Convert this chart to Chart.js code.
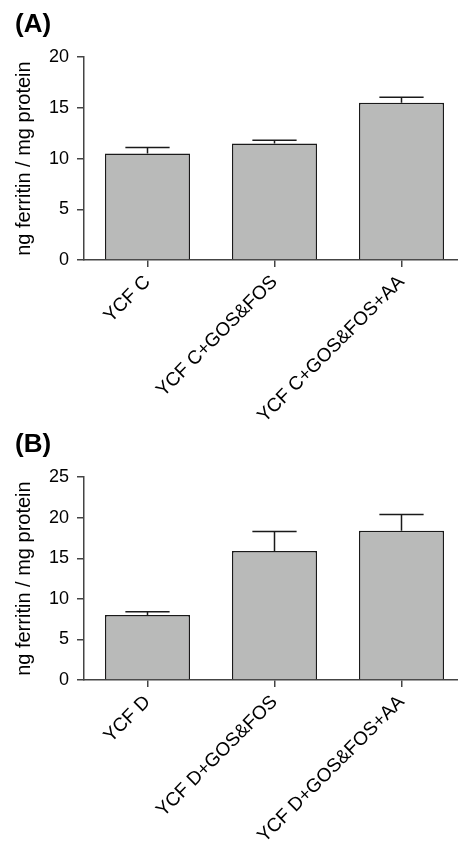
<!DOCTYPE html>
<html><head><meta charset="utf-8">
<script src="https://cdn.jsdelivr.net/npm/chart.js@4/dist/chart.umd.min.js"></script>
<style>
html,body{margin:0;padding:0;background:#fff;overflow:hidden;width:458px;height:849px;position:relative;}
canvas{display:block;position:absolute;left:0;}
#a{top:0}
#b{top:420px}
</style></head><body>
<canvas id="a" width="468" height="420"></canvas>
<canvas id="b" width="468" height="429"></canvas>
<script>
// ---- data ----
const categoriesA = ['YCF C', 'YCF C+GOS&FOS', 'YCF C+GOS&FOS+AA'];
const meansA = [10.5, 11.5, 15.5];
const errorsA = [0.6, 0.3, 0.55];
const yTicksA = [0, 5, 10, 15, 20];

const categoriesB = ['YCF D', 'YCF D+GOS&FOS', 'YCF D+GOS&FOS+AA'];
const meansB = [8.0, 15.9, 18.4];
const errorsB = [0.4, 2.4, 2.0];
const yTicksB = [0, 5, 10, 15, 20, 25];

const panelA = '(A)';
const panelB = '(B)';
const yTitle = 'ng ferritin / mg protein';

// ---- rendering ----
const FONT = '"Liberation Sans", Arial, Helvetica, sans-serif';

const errorBarPlugin = {
  id: 'errorBars',
  afterDatasetsDraw(chart, args, opts) {
    const meta = chart.getDatasetMeta(0);
    const ys = chart.scales.y;
    const ctx = chart.ctx;
    ctx.save();
    ctx.strokeStyle = opts.color;
    ctx.lineWidth = opts.lineWidth;
    meta.data.forEach((bar, i) => {
      const v = chart.data.datasets[0].data[i];
      const e = opts.values[i];
      const x = bar.x;
      const y0 = ys.getPixelForValue(v);
      const y1 = ys.getPixelForValue(v + e);
      const hw = bar.width * opts.capFraction / 2;
      ctx.beginPath();
      ctx.moveTo(x, y0); ctx.lineTo(x, y1);
      ctx.moveTo(x - hw, y1); ctx.lineTo(x + hw, y1);
      ctx.stroke();
    });
    ctx.restore();
  }
};

function makeChart(id, cats, means, errs, yticks, panel, xHeight) {
  return new Chart(document.getElementById(id), {
    type: 'bar',
    data: {
      labels: cats,
      datasets: [{
        data: means,
        backgroundColor: '#b9bab9',
        borderColor: '#1a1a1a',
        borderWidth: 1.5,
        barPercentage: 0.67,
        categoryPercentage: 1
      }]
    },
    options: {
      responsive: false,
      animation: false,
      events: [],
      layout: { padding: { left: 15, right: 3, top: 0, bottom: 0 } },
      plugins: {
        legend: { display: false },
        tooltip: { enabled: false },
        title: {
          display: true, text: panel, align: 'start', color: '#000',
          font: { family: FONT, size: 26, weight: 'bold', lineHeight: 1.2 },
          padding: { top: 9, bottom: 17 }
        },
        errorBars: { values: errs, color: '#1a1a1a', lineWidth: 1.5, capFraction: 0.52 }
      },
      scales: {
        x: {
          grid: { display: true, drawOnChartArea: false, drawTicks: true, tickLength: 7, offset: false, color: '#444', lineWidth: 1.5 },
          border: { display: true, color: '#444', width: 1.5 },
          ticks: { autoSkip: false, minRotation: 45, maxRotation: 45, color: '#000', font: { family: FONT, size: 19 }, padding: 4 },
          afterFit: s => { s.height = xHeight; }
        },
        y: {
          min: yticks[0],
          max: yticks[yticks.length - 1],
          afterBuildTicks: s => { s.ticks = yticks.map(v => ({ value: v })); },
          grid: { display: true, drawOnChartArea: false, drawTicks: true, tickLength: 7, color: '#444', lineWidth: 1.5 },
          border: { display: true, color: '#444', width: 1.5 },
          ticks: { color: '#000', font: { family: FONT, size: 18 }, padding: 8 },
          title: { display: true, text: yTitle, color: '#000', font: { family: FONT, size: 20, lineHeight: 0.9 }, padding: 0 },
          afterFit: s => { s.width = 69; }
        }
      }
    },
    plugins: [errorBarPlugin]
  });
}

makeChart('a', categoriesA, meansA, errorsA, yTicksA, panelA, 160);
makeChart('b', categoriesB, meansB, errorsB, yTicksB, panelB, 169);
</script>
</body></html>
